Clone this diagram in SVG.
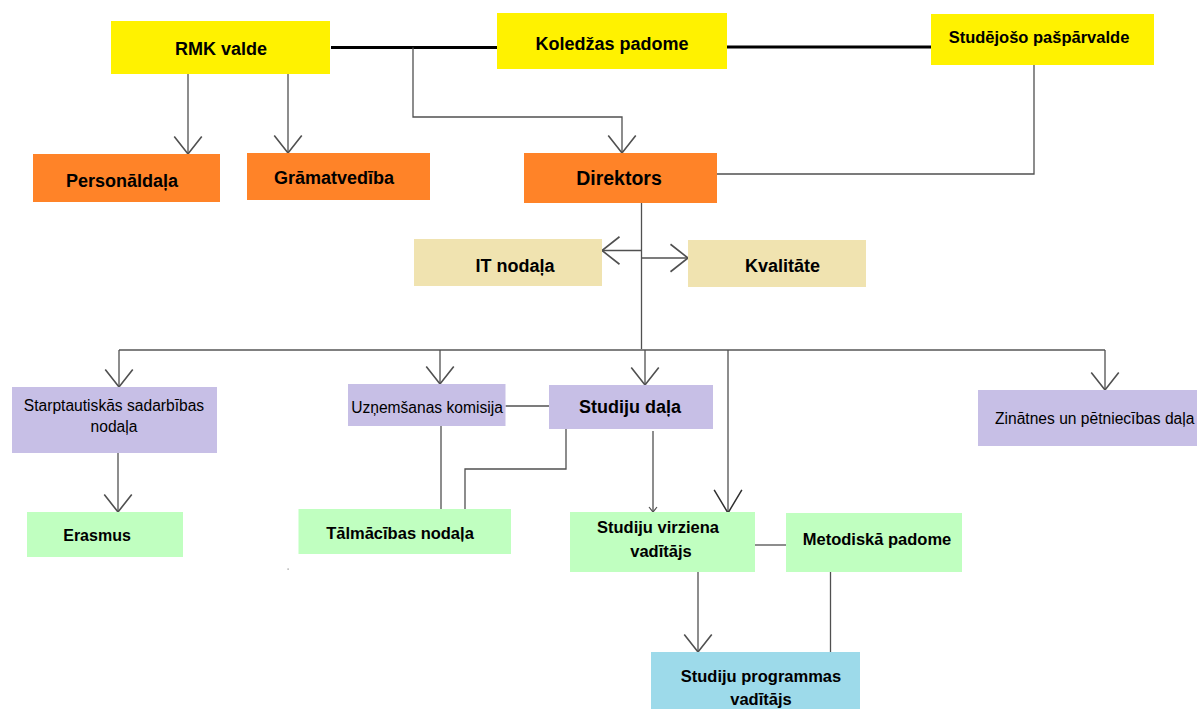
<svg xmlns="http://www.w3.org/2000/svg" width="1197" height="709" viewBox="0 0 1197 709">
<style>
text{font-family:"Liberation Sans",Arial,sans-serif;fill:#000;text-anchor:middle}
.b{font-weight:bold;font-size:18px}
.bs{font-weight:bold;font-size:16.5px}
.r{font-size:15.6px}
.yel{fill:#FFF200}
.org{fill:#FF8328}
.tan{fill:#F0E3B0}
.lav{fill:#C7BFE6}
.grn{fill:#C0FFC0}
.blu{fill:#9DDAEA}
.c{fill:none;stroke:#505050;stroke-width:1.3}
.g{fill:none;stroke:#808080;stroke-width:2}
.k{fill:none;stroke:#000;stroke-width:3}
</style>
<defs>
<marker id="a" markerUnits="userSpaceOnUse" markerWidth="30" markerHeight="30" viewBox="-16 -12 18 24" refX="0" refY="0" orient="auto" overflow="visible">
<path d="M-14,-11 L0,0 L-14,11" fill="none" stroke="#505050" stroke-width="1.3"/>
</marker>
<marker id="aL" markerUnits="userSpaceOnUse" markerWidth="30" markerHeight="30" viewBox="-22 -13 24 26" refX="0" refY="0" orient="auto" overflow="visible">
<path d="M-20,-12 L0,0 L-20,12" fill="none" stroke="#303030" stroke-width="1.3"/>
</marker>
<marker id="aS" markerUnits="userSpaceOnUse" markerWidth="10" markerHeight="10" viewBox="-7 -5 8 10" refX="0" refY="0" orient="auto" overflow="visible">
<path d="M-5,-4 L0,0 L-5,4" fill="none" stroke="#505050" stroke-width="1.2"/>
</marker>
</defs>
<rect width="1197" height="709" fill="#fff"/>
<g id="connectors">
<path class="k" d="M331,47.5 H498"/>
<path class="k" d="M727,47 H931"/>
<path class="c" d="M413,47.5 V117 H622 V153" marker-end="url(#a)"/>
<path class="c" d="M188,74 V154" marker-end="url(#a)"/>
<path class="c" d="M288,74 V153" marker-end="url(#a)"/>
<path class="c" d="M1034,65 V174 H717"/>
<path class="c" d="M641.5,203 V350"/>
<path class="c" d="M641,250.5 H602" marker-end="url(#a)"/>
<path class="c" d="M641,258 H688" marker-end="url(#a)"/>
<path class="g" d="M119,350 H1105"/>
<path class="c" d="M645,350 V385" marker-end="url(#a)"/>
<path class="c" d="M119,350 V387" marker-end="url(#a)"/>
<path class="c" d="M440,350 V384" marker-end="url(#a)"/>
<path class="c" d="M728,350 V513" marker-end="url(#aL)"/>
<path class="c" d="M1105,350 V390" marker-end="url(#a)"/>
<path class="c" d="M505.5,406 H549"/>
<path class="c" d="M441,426 V509"/>
<path class="c" d="M566,429 V469 H465 V509"/>
<path class="c" d="M653,431 V512" marker-end="url(#aS)"/>
<path class="c" d="M118,453 V512" marker-end="url(#a)"/>
<path class="c" d="M755,545 H786"/>
<path class="c" d="M698,572 V652" marker-end="url(#a)"/>
<path class="c" d="M830.5,572 V652"/>
<rect x="287.5" y="568.5" width="1.2" height="1.2" fill="#888"/>
</g>
<g id="rmk-valde"><rect class="yel" x="111" y="21" width="219" height="53"/><text class="b" x="221" y="55">RMK valde</text></g>
<g id="koledzas-padome"><rect class="yel" x="497" y="13" width="230" height="56"/><text class="b" x="612" y="50">Koledžas padome</text></g>
<g id="studejoso"><rect class="yel" x="931" y="14" width="223" height="51"/><text class="bs" x="1039" y="43">Studējošo pašpārvalde</text></g>
<g id="personaldala"><rect class="org" x="33" y="154" width="187" height="48"/><text class="b" x="122" y="187">Personāldaļa</text></g>
<g id="gramatvediba"><rect class="org" x="247" y="153" width="183" height="47"/><text class="b" x="334" y="184">Grāmatvedība</text></g>
<g id="direktors"><rect class="org" x="524" y="153" width="193" height="50"/><text class="b" x="619" y="185" style="font-size:19.5px">Direktors</text></g>
<g id="it-nodala"><rect class="tan" x="414" y="239" width="188" height="47"/><text class="b" x="515" y="272">IT nodaļa</text></g>
<g id="kvalitate"><rect class="tan" x="688" y="240" width="178" height="47"/><text class="b" x="782.5" y="272">Kvalitāte</text></g>
<g id="starptautiskas"><rect class="lav" x="12" y="387" width="205" height="66"/><text class="r" x="114" y="411">Starptautiskās sadarbības</text><text class="r" x="114" y="432">nodaļa</text></g>
<g id="uznemsanas"><rect class="lav" x="348" y="384" width="157.5" height="42"/><text class="r" x="427" y="413">Uzņemšanas komisija</text></g>
<g id="studiju-dala"><rect class="lav" x="549" y="385" width="164" height="44"/><text class="b" x="630" y="413">Studiju daļa</text></g>
<g id="zinatnes"><rect class="lav" x="978" y="390" width="230" height="56"/><text class="r" x="995" y="424" style="text-anchor:start">Zinātnes un pētniecības daļa</text></g>
<g id="erasmus"><rect class="grn" x="27" y="512" width="156" height="45"/><text class="b" x="97" y="541" style="font-size:16px">Erasmus</text></g>
<g id="talmacibas"><rect class="grn" x="298.5" y="509" width="212.5" height="45"/><text class="bs" x="400" y="539">Tālmācības nodaļa</text></g>
<g id="studiju-virziena"><rect class="grn" x="570" y="512" width="185" height="60"/><text class="bs" x="658" y="533">Studiju virziena</text><text class="bs" x="661" y="557">vadītājs</text></g>
<g id="metodiska"><rect class="grn" x="786" y="513" width="176" height="59"/><text class="bs" x="877" y="545">Metodiskā padome</text></g>
<g id="studiju-programmas"><rect class="blu" x="651" y="652" width="209" height="60"/><text class="bs" x="761" y="682">Studiju programmas</text><text class="bs" x="761" y="705">vadītājs</text></g>
</svg>
